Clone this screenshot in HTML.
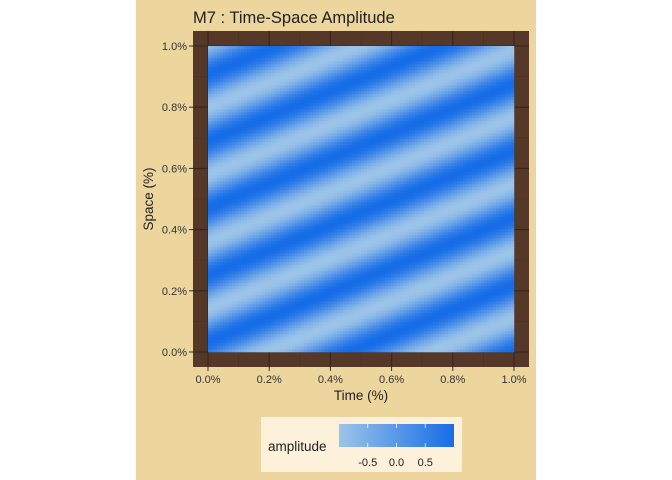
<!DOCTYPE html>
<html><head><meta charset="utf-8"><style>
body{margin:0;background:#fff;}
svg{display:block;font-family:"Liberation Sans",sans-serif;}
</style></head><body>
<svg id="c" width="672" height="480">
<rect x="136" y="0" width="400" height="480" fill="#EDD59E"/>
<rect x="193" y="31" width="336" height="336" fill="#553828"/>
<g id="grid"></g>
<g id="heat"></g>
<text x="193" y="23" font-size="16.5" fill="#222">M7 : Time-Space Amplitude</text>
<g id="xt"></g>
<g id="yt"></g>
<text x="361" y="400" font-size="13.5" text-anchor="middle" fill="#222">Time (%)</text>
<text transform="translate(153,199) rotate(-90)" font-size="13.5" text-anchor="middle" fill="#222">Space (%)</text>
<g>
<rect x="261" y="417" width="201" height="55" fill="#FDF1DB"/>
<text x="268" y="451" font-size="13.5" fill="#222">amplitude</text>
<defs><linearGradient id="lg"><stop offset="0" stop-color="#9CC4E8"/><stop offset="1" stop-color="#166CE8"/></linearGradient></defs>
<rect x="339" y="424" width="115" height="23" fill="url(#lg)"/>
<g id="lt"></g>
</g>
</svg>
<script>
const ticks=[0,0.2,0.4,0.6,0.8,1.0];
const tickLabels=["0.0%","0.2%","0.4%","0.6%","0.8%","1.0%"];
const legendTicks=[-0.5,0,0.5];
const legendLabels=["-0.5","0.0","0.5"];
const waveTimeFreq=[1.86];   // cycles per unit time
const waveSpaceFreq=[4.57];  // cycles per unit space
const wavePhase=[2.52];
const NS="http://www.w3.org/2000/svg";
const X0=208,X1=514,Y0=352,Y1=46;
const xs=v=>X0+v*(X1-X0), ys=v=>Y0+v*(Y1-Y0);
function mk(t,a,p){const e=document.createElementNS(NS,t);for(const k in a)e.setAttribute(k,a[k]);p.appendChild(e);return e;}
const grid=document.getElementById('grid');
for(let i=0;i<=10;i++){const v=i/10,maj=i%2==0;
 const l1=mk('line',{x1:xs(v),x2:xs(v),y1:31,y2:367,stroke:maj?'#3a2418':'#4a2f21','stroke-width':maj?1.1:0.6},grid);
 
 
 const l2=mk('line',{y1:ys(v),y2:ys(v),x1:193,x2:529,stroke:maj?'#3a2418':'#4a2f21','stroke-width':maj?1.1:0.6},grid);
 
 }
const heat=document.getElementById('heat');
const N=102,cw=(X1-X0)/N;
const c0=[0x9C,0xC4,0xE8],c1=[0x16,0x6C,0xE8];
for(let i=0;i<N;i++)for(let j=0;j<N;j++){
 const t=(i+0.5)/N,s=(j+0.5)/N;
 const a=Math.sin(2*Math.PI*(waveTimeFreq[0]*t-waveSpaceFreq[0]*s)+wavePhase[0]);
 const f=(a+1)/2;
 const col=`rgb(${c0.map((c,k)=>Math.round(c+(c1[k]-c)*f)).join(',')})`;
 const r=mk('rect',{x:(X0+i*cw).toFixed(2),y:(Y0-(j+1)*cw).toFixed(2),width:(cw+0.3).toFixed(2),height:(cw+0.3).toFixed(2),fill:col},heat);
 
 }
const xt=document.getElementById('xt'),yt=document.getElementById('yt');
ticks.forEach((v,i)=>{
 const a=mk('text',{x:xs(v),y:383,'font-size':11,'text-anchor':'middle',fill:'#333'},xt);a.textContent=tickLabels[i];
 
 
 const b=mk('text',{x:187,y:ys(v)+4,'font-size':11,'text-anchor':'end',fill:'#333'},yt);b.textContent=tickLabels[i];
 
 
 mk('line',{x1:189,x2:193,y1:ys(v),y2:ys(v),stroke:'#333'},yt);
 mk('line',{x1:xs(v),x2:xs(v),y1:367,y2:371,stroke:'#333'},xt);
});
const lt=document.getElementById('lt');
const lx=v=>339+(v+1)/2*115;
legendTicks.forEach((v,i)=>{
 mk('line',{x1:lx(v),x2:lx(v),y1:424,y2:428,stroke:'#fff','stroke-width':0.8},lt);
 mk('line',{x1:lx(v),x2:lx(v),y1:443,y2:447,stroke:'#fff','stroke-width':0.8},lt);
 const t=mk('text',{x:lx(v),y:466,'font-size':11,'text-anchor':'middle',fill:'#222'},lt);t.textContent=legendLabels[i];
 
 
});
</script>
</body></html>
